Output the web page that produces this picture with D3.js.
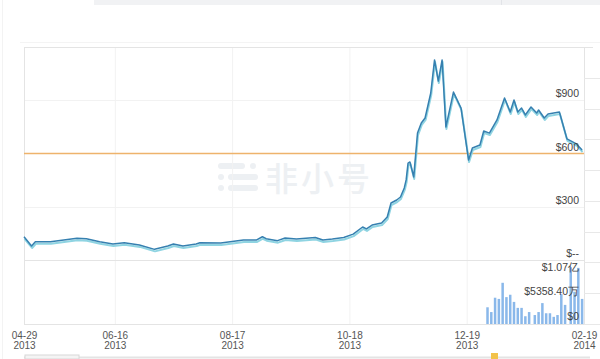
<!DOCTYPE html>
<html><head><meta charset="utf-8">
<script src="https://cdn.jsdelivr.net/npm/d3@7/dist/d3.min.js"></script>
<style>
html,body{margin:0;padding:0;background:#fff;}
svg{display:block;font-family:"Liberation Sans",Arial,sans-serif;}
</style></head>
<body>
<svg id="chart" width="600" height="359"></svg>
<script>
// ---- data ----
const priceDates = ["2013-04-29","2013-05-03","2013-05-05","2013-05-13","2013-05-27","2013-06-01","2013-06-08","2013-06-15","2013-06-21","2013-06-29","2013-07-07","2013-07-14","2013-07-17","2013-07-22","2013-07-29","2013-07-31","2013-08-11","2013-08-17","2013-08-23","2013-08-30","2013-09-02","2013-09-04","2013-09-10","2013-09-14","2013-09-20","2013-09-30","2013-10-04","2013-10-09","2013-10-15","2013-10-20","2013-10-25","2013-10-27","2013-10-30","2013-11-04","2013-11-07","2013-11-09","2013-11-12","2013-11-14","2013-11-16","2013-11-17","2013-11-18","2013-11-19","2013-11-21","2013-11-23","2013-11-25","2013-11-27","2013-11-30","2013-12-02","2013-12-04","2013-12-06","2013-12-08","2013-12-12","2013-12-14","2013-12-16","2013-12-20","2013-12-22","2013-12-26","2013-12-28","2013-12-31","2014-01-04","2014-01-08","2014-01-11","2014-01-13","2014-01-15","2014-01-17","2014-01-19","2014-01-22","2014-01-25","2014-01-26","2014-01-29","2014-01-31","2014-02-06","2014-02-10","2014-02-15","2014-02-18"];
const priceValues = [131,79,103,103,122,120,103,90,97,85,60,79,90,79,90,97,96,104,113,113,131,120,109,124,118,127,113,118,127,146,186,175,197,208,242,321,338,355,406,451,546,552,468,715,772,800,941,1127,1008,1127,749,946,901,856,563,631,648,727,715,789,913,834,901,834,856,817,862,828,845,800,823,834,682,654,620];
const volDates = ["2013-12-30","2014-01-01","2014-01-03","2014-01-05","2014-01-07","2014-01-09","2014-01-11","2014-01-13","2014-01-15","2014-01-17","2014-01-19","2014-01-21","2014-01-24","2014-01-26","2014-01-28","2014-01-30","2014-02-01","2014-02-03","2014-02-05","2014-02-07","2014-02-09","2014-02-12","2014-02-14","2014-02-16","2014-02-18"];
const volValues = [28e6,20e6,44e6,42e6,69e6,45e6,49e6,37e6,27e6,27e6,13e6,20e6,15e6,20e6,35e6,18e6,18e6,12e6,15e6,50e6,32e6,95e6,54e6,94e6,42e6];
const xTickDates = ["2013-04-29","2013-06-16","2013-08-17","2013-10-18","2013-12-19","2014-02-19"];
const priceTicks = [0,300,600,900];
const priceTickLabels = ["$--","$300","$600","$900"];
const volTicks = [0,53584000,107170000];
const volTickLabels = ["$0","$5358.40万","$1.07亿"];
const refPrice = 600;
const xDomain = ["2013-04-29","2014-02-19"];
const priceMax = 1200;

// ---- setup ----
const parse = d3.utcParse("%Y-%m-%d");
const svg = d3.select("#chart");
const L = 24, R = 584, T = 47, MID = 260, B = 324;

const x = d3.scaleUtc().domain(xDomain.map(parse)).range([L, R]);
const yP = d3.scaleLinear().domain([0, priceMax]).range([MID, T]);
const yV = d3.scaleLinear().domain([0, volTicks[2]]).range([B, MID]);

// page decorations
svg.append("rect").attr("x",94).attr("y",0).attr("width",506).attr("height",5).attr("fill","#f1f2f4");
svg.append("line").attr("x1",501.5).attr("x2",501.5).attr("y1",0).attr("y2",5).attr("stroke","#e2e4e8");
svg.append("line").attr("x1",2.5).attr("x2",2.5).attr("y1",0).attr("y2",359).attr("stroke","#f3f3f3");
svg.append("line").attr("x1",20).attr("x2",600).attr("y1",42.5).attr("y2",42.5).attr("stroke","#f4f4f4");

// watermark
const wm = svg.append("g").attr("fill","#edf0f3");
wm.append("rect").attr("x",218).attr("y",163).attr("width",27).attr("height",6).attr("rx",3);
wm.append("circle").attr("cx",253).attr("cy",166).attr("r",3);
wm.append("circle").attr("cx",221).attr("cy",177).attr("r",3);
wm.append("rect").attr("x",228).attr("y",174).attr("width",30).attr("height",6).attr("rx",3);
wm.append("circle").attr("cx",221).attr("cy",188).attr("r",3);
wm.append("rect").attr("x",228).attr("y",185).attr("width",30).attr("height",6).attr("rx",3);
wm.append("text").attr("x",265).attr("y",191).attr("font-size",33).attr("letter-spacing",3)
  .attr("font-family","'Noto Sans CJK SC',sans-serif").attr("font-weight",500).text("非小号");

// grid
const grid = svg.append("g");
grid.selectAll("line.v").data(xTickDates.slice(1,-1).map(parse)).enter().append("line")
  .attr("x1",d=>x(d)+0.5).attr("x2",d=>x(d)+0.5).attr("y1",T).attr("y2",B).attr("stroke","#f2f2f2");
grid.selectAll("line.h").data([300,900]).enter().append("line")
  .attr("x1",L).attr("x2",R).attr("y1",d=>Math.round(yP(d))+0.5).attr("y2",d=>Math.round(yP(d))+0.5).attr("stroke","#f2f2f2");
// frame
const fr = svg.append("g").attr("stroke","#e4e4e4").attr("fill","none");
fr.append("line").attr("x1",L).attr("x2",593).attr("y1",T+0.5).attr("y2",T+0.5);
fr.append("line").attr("x1",L+0.5).attr("x2",L+0.5).attr("y1",T).attr("y2",B);
fr.append("line").attr("x1",R+0.5).attr("x2",R+0.5).attr("y1",T).attr("y2",B);
fr.append("line").attr("x1",L).attr("x2",R).attr("y1",MID+0.5).attr("y2",MID+0.5);
fr.append("line").attr("x1",L).attr("x2",R).attr("y1",B+0.5).attr("y2",B+0.5);
// right outer tick marks
const yOuter = d3.scaleLinear().domain([0,9]).range([T,B]);
svg.append("g").selectAll("line").data(d3.range(1,10)).enter().append("line")
  .attr("x1",R).attr("x2",600).attr("y1",d=>Math.round(yOuter(d))+0.5).attr("y2",d=>Math.round(yOuter(d))+0.5)
  .attr("stroke","#e8e8e8");

// reference line
svg.append("line").attr("x1",L).attr("x2",R).attr("y1",yP(refPrice)).attr("y2",yP(refPrice))
  .attr("stroke","#eeb36c").attr("stroke-width",1.5);

// volume bars
svg.append("g").selectAll("rect").data(volDates.map((d,i)=>({d:parse(d),v:volValues[i]}))).enter().append("rect")
  .attr("x",d=>x(d.d)-1.25).attr("width",2.5)
  .attr("y",d=>yV(d.v)).attr("height",d=>yV(0)-yV(d.v))
  .attr("fill","#8ab8ea");

// price lines
const pdata = priceDates.map((d,i)=>({d:parse(d),v:priceValues[i]}));
const line = d3.line().x(d=>x(d.d)).y(d=>yP(d.v));
svg.append("path").datum(pdata).attr("d",line).attr("fill","none")
  .attr("stroke","#8fd4e2").attr("stroke-width",2).attr("transform","translate(0.5,2)")
  .attr("stroke-linejoin","round");
svg.append("path").datum(pdata).attr("d",line).attr("fill","none")
  .attr("stroke","#3680b0").attr("stroke-width",1.5).attr("stroke-linejoin","round");

// price axis labels (inside, right)
svg.append("g").selectAll("text").data(priceTicks).enter().append("text")
  .attr("x",579).attr("y",d=>yP(d)-3).attr("text-anchor","end")
  .attr("font-size",10.5).attr("fill","#444").text((d,i)=>priceTickLabels[i]);
// volume axis labels
const volOff = [-4,3,11];
svg.append("g").selectAll("text").data(volTicks).enter().append("text")
  .attr("x",579).attr("y",(d,i)=>yV(d)+volOff[i]).attr("text-anchor","end")
  .attr("font-size",10.5).attr("fill","#444").text((d,i)=>volTickLabels[i]);

// x axis
const fmtMD = d3.utcFormat("%m-%d"), fmtY = d3.utcFormat("%Y");
const xa = svg.append("g").attr("transform",`translate(0,${B})`)
  .call(d3.axisBottom(x).tickValues(xTickDates.map(parse)).tickSize(0).tickFormat(""));
xa.select(".domain").remove();
xa.selectAll(".tick text").attr("dy",null).attr("y",null)
  .attr("font-size",10).attr("fill","#555").attr("font-family","'Liberation Sans',Arial,sans-serif")
  .each(function(d){
    const t = d3.select(this);
    t.append("tspan").attr("x",0).attr("y",14.5).text(fmtMD(d));
    t.append("tspan").attr("x",0).attr("y",25).text(fmtY(d));
  });

// navigator strip at bottom
svg.append("line").attr("x1",L).attr("x2",590).attr("y1",357.5).attr("y2",357.5).attr("stroke","#e4e4e4").attr("stroke-width",2);
svg.append("rect").attr("x",L+1).attr("y",355).attr("width",54).attr("height",4).attr("fill","#f4f4f4").attr("stroke","#d8d8d8");
svg.append("rect").attr("x",491).attr("y",353).attr("width",7).attr("height",6).attr("fill","#f2c24a");
</script>
</body></html>
